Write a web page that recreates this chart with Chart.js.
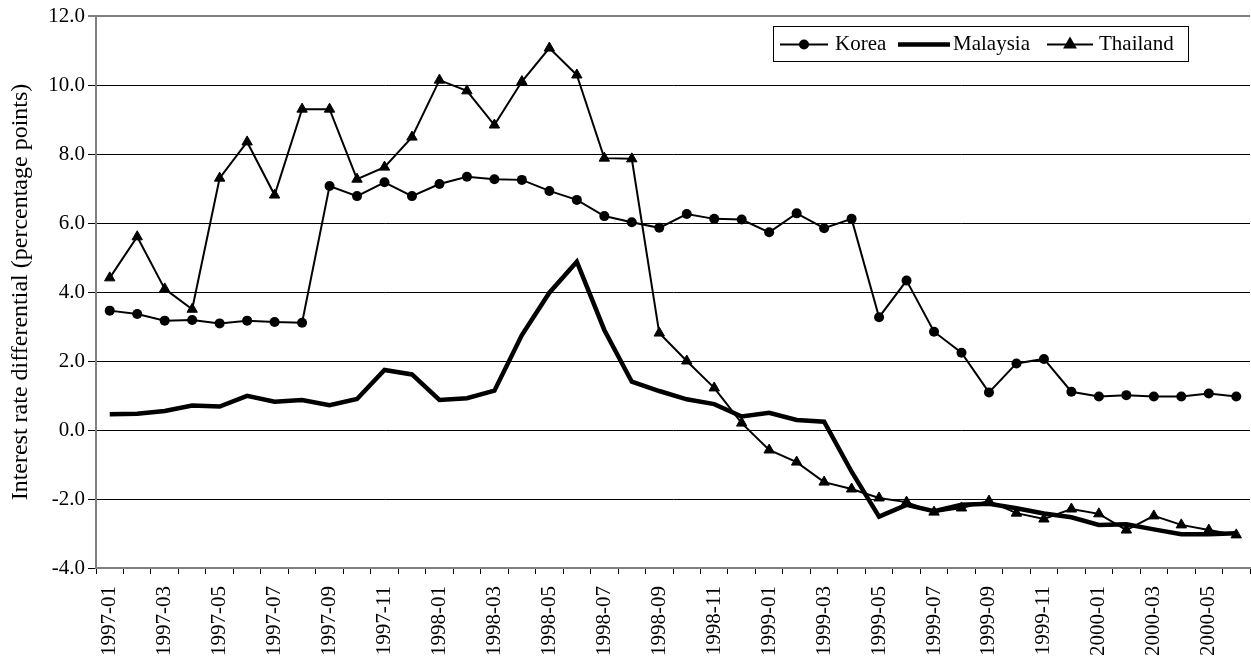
<!DOCTYPE html>
<html>
<head>
<meta charset="utf-8">
<title>Interest rate differential</title>
<script src="https://cdn.jsdelivr.net/npm/chart.js@4.4.1/dist/chart.umd.min.js"></script>
<style>
  html, body { margin: 0; padding: 0; background: #fff; }
  #wrap { width: 1251px; height: 657px; overflow: hidden; }
</style>
</head>
<body>
<!-- canvas a few px wider than the window so the plot runs to the right edge, as in the original -->
<div id="wrap"><canvas id="irdChart" width="1257" height="657"></canvas></div>
<script>
'use strict';

// Monthly observations, 1997-01 .. 2000-06
const months = [
  '1997-01','1997-02','1997-03','1997-04','1997-05','1997-06','1997-07','1997-08','1997-09','1997-10','1997-11','1997-12',
  '1998-01','1998-02','1998-03','1998-04','1998-05','1998-06','1998-07','1998-08','1998-09','1998-10','1998-11','1998-12',
  '1999-01','1999-02','1999-03','1999-04','1999-05','1999-06','1999-07','1999-08','1999-09','1999-10','1999-11','1999-12',
  '2000-01','2000-02','2000-03','2000-04','2000-05','2000-06'
];

const korea = [
  3.46, 3.36, 3.17, 3.19, 3.09, 3.17, 3.13, 3.11, 7.07, 6.78, 7.18, 6.78,
  7.13, 7.34, 7.27, 7.25, 6.93, 6.67, 6.20, 6.02, 5.86, 6.26, 6.12, 6.10,
  5.73, 6.28, 5.85, 6.12, 3.27, 4.33, 2.85, 2.24, 1.09, 1.93, 2.06, 1.11,
  0.97, 1.01, 0.97, 0.97, 1.06, 0.97
];

const malaysia = [
  0.46, 0.47, 0.55, 0.71, 0.68, 0.99, 0.82, 0.87, 0.72, 0.90, 1.74, 1.61,
  0.87, 0.92, 1.14, 2.75, 3.98, 4.88, 2.90, 1.40, 1.13, 0.89, 0.75, 0.39,
  0.50, 0.29, 0.24, -1.21, -2.51, -2.17, -2.35, -2.17, -2.14, -2.27, -2.42, -2.53,
  -2.75, -2.73, -2.88, -3.02, -3.02, -2.99
];

const thailand = [
  4.41, 5.60, 4.09, 3.50, 7.30, 8.35, 6.81, 9.30, 9.30, 7.27, 7.62, 8.49,
  10.14, 9.83, 8.84, 10.10, 11.07, 10.29, 7.88, 7.86, 2.81, 2.00, 1.22, 0.20,
  -0.58, -0.93, -1.51, -1.71, -1.97, -2.09, -2.38, -2.26, -2.06, -2.41, -2.58, -2.29,
  -2.43, -2.90, -2.49, -2.75, -2.90, -3.04
];

const yTicks = [-4, -2, 0, 2, 4, 6, 8, 10, 12];

const FONT = 'Liberation Serif, "Times New Roman", serif';

// Legend drawn inside the plot area, boxed, like the original
const boxedLegend = {
  id: 'boxedLegend',
  afterDraw(chart) {
    const ctx = chart.ctx;
    const x0 = 773, y0 = 26, w = 415, h = 35;
    const cy = y0 + h / 2 + 1;
    ctx.save();
    ctx.fillStyle = '#fff';
    ctx.fillRect(x0, y0, w, h);
    ctx.strokeStyle = '#000';
    ctx.lineWidth = 1;
    ctx.strokeRect(x0 + 0.5, y0 + 0.5, w, h);

    const items = [
      { line: [780, 828], text: 835 },
      { line: [898, 950], text: 953 },
      { line: [1047, 1093], text: 1099 }
    ];
    chart.data.datasets.forEach((ds, i) => {
      const it = items[i];
      ctx.strokeStyle = ds.borderColor;
      ctx.lineWidth = ds.borderWidth;
      ctx.beginPath();
      ctx.moveTo(it.line[0], cy);
      ctx.lineTo(it.line[1], cy);
      ctx.stroke();
      const mx = (it.line[0] + it.line[1]) / 2;
      if (ds.pointStyle === 'circle' && ds.pointRadius > 0) {
        ctx.fillStyle = ds.pointBackgroundColor;
        ctx.beginPath();
        ctx.arc(mx, cy, ds.pointRadius, 0, Math.PI * 2);
        ctx.fill();
      } else if (ds.pointStyle === 'triangle' && ds.pointRadius > 0) {
        Chart.helpers.drawPoint(ctx, { pointStyle: 'triangle', radius: ds.pointRadius, rotation: 0, borderWidth: 1 }, mx, cy);
        ctx.fillStyle = ds.pointBackgroundColor;
        ctx.fill();
      }
      ctx.fillStyle = '#000';
      ctx.font = '21px ' + FONT;
      ctx.textBaseline = 'middle';
      ctx.textAlign = 'left';
      ctx.fillText(ds.label, it.text, cy);
    });
    ctx.restore();
  }
};

const ctx = document.getElementById('irdChart');

new Chart(ctx, {
  type: 'line',
  data: {
    labels: months,
    datasets: [
      {
        label: 'Korea',
        data: korea,
        borderColor: '#000',
        borderWidth: 2,
        pointStyle: 'circle',
        pointRadius: 5,
        pointBackgroundColor: '#000',
        pointBorderColor: '#000',
        pointBorderWidth: 0,
        tension: 0
      },
      {
        label: 'Malaysia',
        data: malaysia,
        borderColor: '#000',
        borderWidth: 4.5,
        pointRadius: 0,
        pointStyle: 'line',
        tension: 0
      },
      {
        label: 'Thailand',
        data: thailand,
        borderColor: '#000',
        borderWidth: 2,
        pointStyle: 'triangle',
        pointRadius: 6,
        pointBackgroundColor: '#000',
        pointBorderColor: '#000',
        pointBorderWidth: 1,
        tension: 0
      }
    ]
  },
  options: {
    responsive: false,
    animation: false,
    devicePixelRatio: 1,
    layout: { padding: { top: 16, right: 0, left: 6, bottom: 0 } },
    plugins: {
      legend: { display: false },
      tooltip: { enabled: false }
    },
    scales: {
      x: {
        type: 'category',
        offset: true,
        afterFit(scale) {
          scale.height = 89;
          scale.paddingLeft = 0;
          scale.paddingRight = 0;
        },
        grid: {
          offset: true,
          drawOnChartArea: false,
          drawTicks: true,
          tickLength: 6,
          color: '#000',
          lineWidth: 1
        },
        border: { display: true, color: '#808080', width: 2 },
        ticks: {
          autoSkip: false,
          maxRotation: 90,
          minRotation: 90,
          padding: 12,
          color: '#000',
          font: { family: FONT, size: 21 },
          callback(val, i) { return i % 2 === 0 ? months[i] : ''; }
        }
      },
      y: {
        min: yTicks[0],
        max: yTicks[yTicks.length - 1],
        afterFit(scale) { scale.width = 90; },
        afterBuildTicks(scale) { scale.ticks = yTicks.map(v => ({ value: v })); },
        grid: {
          color: c => (c.tick && c.tick.value === 12) ? '#808080' : '#000',
          lineWidth: c => (c.tick && c.tick.value === 12) ? 2 : 1,
          tickLength: 8,
          drawTicks: true
        },
        border: { display: true, color: '#808080', width: 2 },
        title: {
          display: true,
          text: 'Interest rate differential (percentage points)',
          color: '#000',
          font: { family: FONT, size: 24 },
          padding: { top: 0, bottom: 0 }
        },
        ticks: {
          padding: 3,
          color: '#000',
          font: { family: FONT, size: 21 },
          callback: v => v.toFixed(1)
        }
      }
    }
  },
  plugins: [boxedLegend]
});
</script>
</body>
</html>
